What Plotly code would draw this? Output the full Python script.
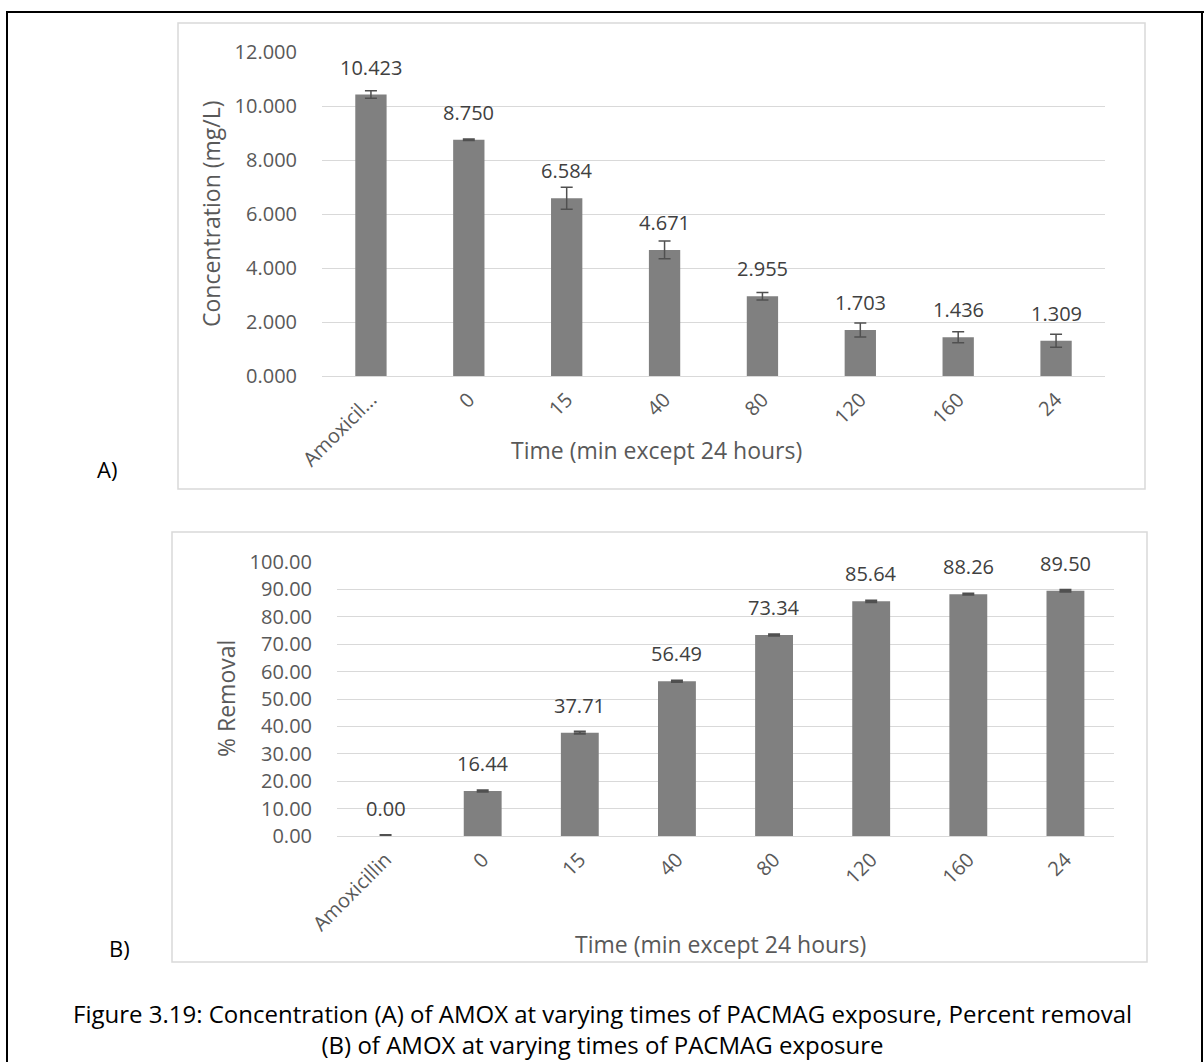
import plotly.graph_objects as go

# ---------------- data ----------------
categories_a = ["Amoxicil...", "0", "15", "40", "80", "120", "160", "24"]
conc_mg_l = [10.423, 8.750, 6.584, 4.671, 2.955, 1.703, 1.436, 1.309]
conc_err = [0.14, 0.03, 0.41, 0.33, 0.14, 0.26, 0.20, 0.24]

categories_b = ["Amoxicillin", "0", "15", "40", "80", "120", "160", "24"]
removal_pct = [0.00, 16.44, 37.71, 56.49, 73.34, 85.64, 88.26, 89.50]
removal_err = [0.35, 0.30, 0.40, 0.30, 0.25, 0.35, 0.25, 0.35]

caption_lines = [
    "Figure 3.19: Concentration (A) of AMOX at varying times of PACMAG exposure, Percent removal",
    "(B) of AMOX at varying times of PACMAG exposure",
]

W, H = 1204, 1062
FONT = "Open Sans"
TICK_C = "#595959"
LABEL_C = "#404040"
GRID_C = "#D9D9D9"
BAR_C = "#808080"


def px(x):
    return x / W


def py(y):
    return 1 - y / H


fig = go.Figure()

fig.add_trace(go.Bar(
    x=categories_a, y=conc_mg_l, xaxis="x", yaxis="y",
    marker=dict(color=BAR_C, line=dict(width=0)), width=0.32,
    error_y=dict(type="data", array=conc_err, visible=True,
                 color="#505050", thickness=1.5, width=6),
    showlegend=False, hoverinfo="skip"))

fig.add_trace(go.Bar(
    x=categories_b, y=removal_pct, xaxis="x2", yaxis="y2",
    marker=dict(color=BAR_C, line=dict(width=0)), width=0.39,
    error_y=dict(type="data", array=removal_err, visible=True,
                 color="#505050", thickness=2, width=6),
    showlegend=False, hoverinfo="skip"))

annotations = []
for i, v in enumerate(conc_mg_l):
    annotations.append(dict(x=i, y=v, xref="x", yref="y", text=f"{v:.3f}",
                            showarrow=False, xanchor="center", yanchor="bottom", yshift=12,
                            font=dict(family=FONT, size=20, color=LABEL_C)))
for i, v in enumerate(removal_pct):
    annotations.append(dict(x=i, y=v, xref="x2", yref="y2", text=f"{v:.2f}",
                            showarrow=False, xanchor="center", yanchor="bottom", yshift=12,
                            font=dict(family=FONT, size=20, color=LABEL_C)))


def note(x, y, text, size, color, angle=0):
    return dict(x=px(x), y=py(y), xref="paper", yref="paper", text=text,
                textangle=angle, showarrow=False, xanchor="center", yanchor="middle",
                font=dict(family=FONT, size=size, color=color))


annotations += [
    note(211, 214, "Concentration (mg/L)", 23, TICK_C, -90),
    note(656, 450, "Time (min except 24 hours)", 23, TICK_C),
    note(226, 699, "% Removal", 23, TICK_C, -90),
    note(720, 944, "Time (min except 24 hours)", 23, TICK_C),
    note(107, 469, "A)", 22, "#000000"),
    note(119, 948, "B)", 22, "#000000"),
    note(602, 1029, "<br>".join(caption_lines), 24, "#000000"),
]

shapes = [
    dict(type="rect", xref="paper", yref="paper", x0=px(178), x1=px(1145), y0=py(489), y1=py(23),
         line=dict(color=GRID_C, width=1.5), fillcolor="rgba(0,0,0,0)", layer="below"),
    dict(type="rect", xref="paper", yref="paper", x0=px(172), x1=px(1147), y0=py(962), y1=py(532),
         line=dict(color=GRID_C, width=1.5), fillcolor="rgba(0,0,0,0)", layer="below"),
    dict(type="line", xref="paper", yref="paper", x0=px(6), x1=px(1204), y0=py(12), y1=py(12),
         line=dict(color="#000000", width=2)),
    dict(type="line", xref="paper", yref="paper", x0=px(7), x1=px(7), y0=py(11), y1=0,
         line=dict(color="#000000", width=2)),
    dict(type="line", xref="paper", yref="paper", x0=px(1202), x1=px(1202), y0=py(11), y1=0,
         line=dict(color="#000000", width=2)),
]

tickfont = dict(family=FONT, size=20, color=TICK_C)

common_x = dict(type="category", tickangle=-45, tickfont=tickfont, showgrid=False,
                showline=False, zeroline=False, ticks="outside", ticklen=3,
                tickcolor="rgba(0,0,0,0)", fixedrange=True, automargin=False,
                range=[-0.5, 7.5])
common_y = dict(tickfont=tickfont, showgrid=True, gridcolor=GRID_C, gridwidth=1,
                zeroline=True, zerolinecolor=GRID_C, zerolinewidth=1, showline=False,
                ticks="outside", ticklen=20, tickcolor="rgba(0,0,0,0)",
                fixedrange=True, automargin=False)

fig.update_layout(
    template="none",
    width=W, height=H, autosize=False, margin=dict(l=0, r=0, t=0, b=0, pad=0),
    paper_bgcolor="white", plot_bgcolor="white",
    annotations=annotations, shapes=shapes, showlegend=False,
    xaxis=dict(domain=[px(322), px(1105)], anchor="y", **common_x),
    yaxis=dict(domain=[py(376), py(52)], anchor="x", range=[0, 12], dtick=2,
               tickformat=".3f", **common_y),
    xaxis2=dict(domain=[px(337), px(1114)], anchor="y2", **common_x),
    yaxis2=dict(domain=[py(836), py(562)], anchor="x2", range=[0, 100], dtick=10,
                tickformat=".2f", **common_y),
)

fig.write_html("out.html", config={"displayModeBar": False},
               post_script="document.body.style.margin='0';document.body.style.overflow='hidden';")
